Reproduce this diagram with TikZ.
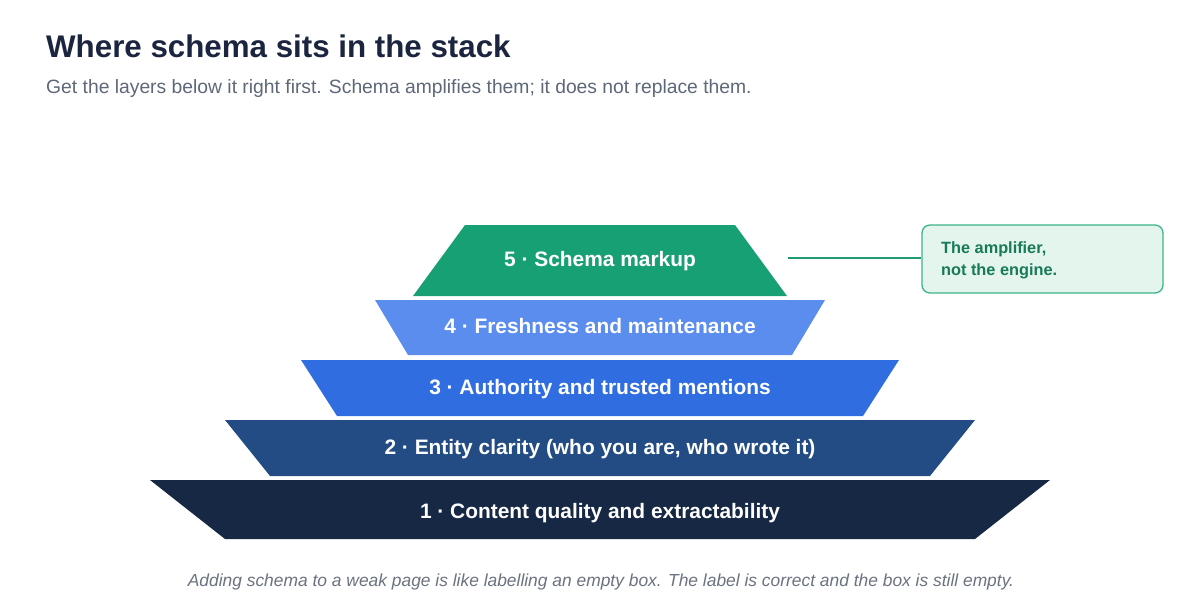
\documentclass[tikz,border=0pt]{standalone}
\usepackage{fontspec}
\setmainfont{Liberation Sans}
\definecolor{titlec}{HTML}{1B2540}
\definecolor{subc}{HTML}{5E6878}
\definecolor{footc}{HTML}{6B7280}
\definecolor{l5}{HTML}{18A075}
\definecolor{l4}{HTML}{5B8DEF}
\definecolor{l3}{HTML}{2F6DE1}
\definecolor{l2}{HTML}{234C85}
\definecolor{l1}{HTML}{172844}
\definecolor{calfill}{HTML}{E4F5EE}
\definecolor{calline}{HTML}{3DB588}
\definecolor{caltext}{HTML}{177A58}
\definecolor{conn}{HTML}{1F9C72}
\tikzset{
  layerlabel/.style={anchor=base,text=white,font=\fontsize{20.9}{25}\selectfont\bfseries,inner sep=0pt},
}
\begin{document}
\begin{tikzpicture}[x=1pt,y=-1pt]
\useasboundingbox[fill=white] (0,0) rectangle (1200,615);
% title
\node[anchor=base west,inner sep=0pt,text=titlec,font=\fontsize{31.3}{36}\selectfont\bfseries] (title) at (46,58) {Where schema sits in the stack};
\node[anchor=base west,inner sep=0pt,text=subc,font=\fontsize{19.3}{23}\selectfont] (sub) at (46,94) {Get the layers below it right first. Schema amplifies them; it does not replace them.};
% layers
\fill[l5] (465,225) -- (735,225) -- (787,296) -- (413,296) -- cycle;
\fill[l4] (375,300) -- (825,300) -- (792,355) -- (408,355) -- cycle;
\fill[l3] (301,360) -- (899,360) -- (863,416) -- (337,416) -- cycle;
\fill[l2] (225,420) -- (975,420) -- (930,476) -- (270,476) -- cycle;
\fill[l1] (150,480) -- (1050,480) -- (975,539) -- (225,539) -- cycle;
\node[layerlabel] (t5) at (600,266.5) {5 · Schema markup};
\node[layerlabel] (t4) at (600,333.5) {4 · Freshness and maintenance};
\node[layerlabel] (t3) at (600,394) {3 · Authority and trusted mentions};
\node[layerlabel] (t2) at (600,454) {2 · Entity clarity (who you are, who wrote it)};
\node[layerlabel] (t1) at (600,518) {1 · Content quality and extractability};
% callout
\node[draw=calline,fill=calfill,line width=1.3pt,rounded corners=8pt,minimum width=241pt,minimum height=68pt,inner sep=0pt] (callout) at (1042.5,259) {};
\node[anchor=base west,align=left,inner sep=0pt,text=caltext,font=\fontsize{16.3}{22}\selectfont\bfseries] (caltxt) at (941,275) {The amplifier,\\not the engine.};
\coordinate (l5r) at (788,258);
\draw[conn,line width=2pt] (l5r) -- (callout.west |- l5r);
% footer
\node[anchor=base,inner sep=0pt,text=footc,font=\fontsize{17.4}{21}\selectfont\itshape] (foot) at (601,586) {Adding schema to a weak page is like labelling an empty box. The label is correct and the box is still empty.};
\end{tikzpicture}
\end{document}
